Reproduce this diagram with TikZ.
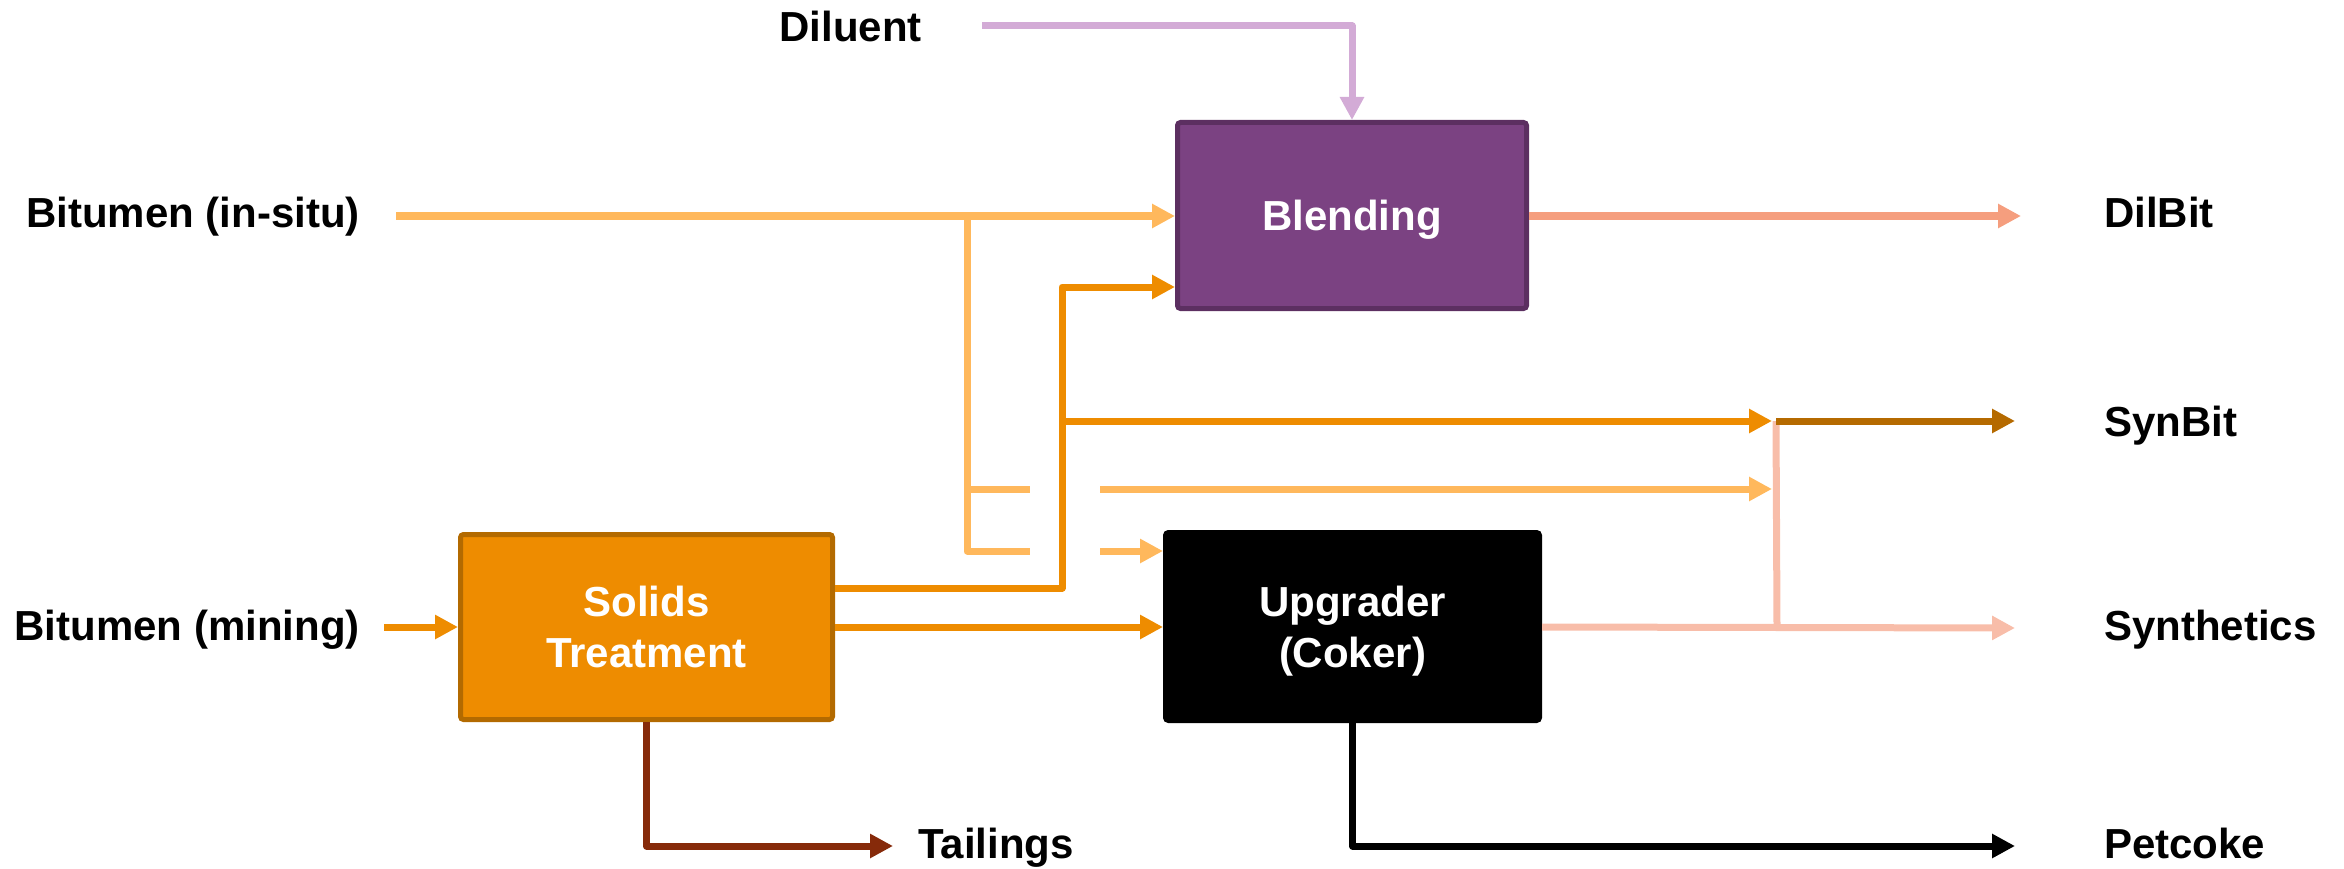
\documentclass[tikz,border=0pt]{standalone}
\usepackage{fontspec}
\setmainfont{Liberation Sans}
\usetikzlibrary{arrows.meta,calc}
\definecolor{insitu}{HTML}{FFB85C}
\definecolor{orng}{HTML}{EE8C00}
\definecolor{solfill}{HTML}{EE8C00}
\definecolor{soldraw}{HTML}{B36A00}
\definecolor{blendfill}{HTML}{7B4282}
\definecolor{blenddraw}{HTML}{5C2F61}
\definecolor{dilcol}{HTML}{D3ABD6}
\definecolor{dilbitcol}{HTML}{F59E7E}
\definecolor{synbitcol}{HTML}{B56A00}
\definecolor{synthcol}{HTML}{F8BDA9}
\definecolor{tailcol}{HTML}{862A0A}
\tikzset{
  lbl/.style={font=\fontsize{42}{50}\selectfont\bfseries, text=black, inner sep=0pt},
  procbox/.style={font=\fontsize{42}{51}\selectfont\bfseries, text=white, align=center, line width=5pt, rounded corners=3pt, inner sep=0pt, text depth=0pt},
  flow/.style={line width=7pt, line join=round},
  arr/.style={-{Triangle[length=23pt,width=23pt]}},
}
\begin{document}
\begin{tikzpicture}[x=1pt,y=-1pt]
\useasboundingbox (0,0) rectangle (2344,869);

% process boxes
\node[procbox, fill=blendfill, draw=blenddraw, minimum width=349pt, minimum height=186pt, text height=30pt] (blend) at (1352,215.5) {Blending};
\node[procbox, fill=black, draw=black, minimum width=374pt, minimum height=188pt, text height=81pt] (upg) at (1352.5,626.5) {Upgrader\\(Coker)};
\node[procbox, fill=solfill, draw=soldraw, minimum width=372pt, minimum height=185pt, text height=81pt] (sol) at (646.5,627) {Solids\\Treatment};

% labels
\node[lbl, anchor=base east] (lins) at (360,227) {Bitumen (in-situ)};
\node[lbl, anchor=base east] (lmin) at (360,640) {Bitumen (mining)};
\node[lbl, anchor=base east] (ldil) at (922,42) {Diluent};
\node[lbl, anchor=base west] (ltail) at (918,858) {Tailings};
\node[lbl, anchor=base west] (ldilbit) at (2104,227) {DilBit};
\node[lbl, anchor=base west] (lsynbit) at (2104,436) {SynBit};
\node[lbl, anchor=base west] (lsynth) at (2104,640) {Synthetics};
\node[lbl, anchor=base west] (lpet) at (2104,858) {Petcoke};

% coordinates
\coordinate (dilS) at (982,26);
\coordinate (insS) at (396,216);
\coordinate (insJ) at (967,216);
\coordinate (insB1) at (1030,489);
\coordinate (insB2) at (1030,551);
\coordinate (insC1) at (1100,489);
\coordinate (insC2) at (1100,551);
\coordinate (minS) at (384,627);
\coordinate (orY) at (0,588);
\coordinate (orX) at (1062,287);
\coordinate (orJ) at (1062,421);
\coordinate (mixTop) at (1776,421);
\coordinate (mixBot) at (1777,627);
\coordinate (mixIn1) at (1772,421);
\coordinate (mixIn2) at (1772,489);
\coordinate (synbitE) at (2015,421);
\coordinate (synthE) at (2015,628);
\coordinate (dilbitE) at (2021,216);
\coordinate (petE) at (2015,846);
\coordinate (tailE) at (893,846);

% diluent
\draw[flow, dilcol, arr] (dilS) -| (blend.north);

% in-situ bitumen
\draw[flow, insitu, arr] (insS) -- (blend.west |- insS);
\draw[flow, insitu] (insJ) |- (insB2);
\draw[flow, insitu] (insJ |- insB1) -- (insB1);
\draw[flow, insitu, arr] (insC2) -- (upg.west |- insC2);

% pink synthetics
\draw[flow, synthcol] (mixBot) -- (mixTop);
\draw[flow, synthcol, arr] (upg.east |- mixBot) -- (synthE);

\draw[flow, insitu, arr] (insC1) -- (mixIn2);

% mining bitumen
\draw[flow, orng, arr] (minS) -- (sol.west);
\draw[flow, orng, arr] (sol.east |- orY) -| (orX) -- (blend.west |- orX);
\draw[flow, orng, arr] (orJ) -- (mixIn1);
\draw[flow, orng, arr] (sol.east) -- (upg.west |- sol.east);

% synbit
\draw[flow, synbitcol, arr] (mixTop) -- (synbitE);

% dilbit
\draw[flow, dilbitcol, arr] (blend.east |- dilbitE) -- (dilbitE);

% tailings and petcoke
\draw[flow, tailcol, arr] (sol.south) |- (tailE);
\draw[flow, black, arr] (upg.south) |- (petE);
\end{tikzpicture}
\end{document}
